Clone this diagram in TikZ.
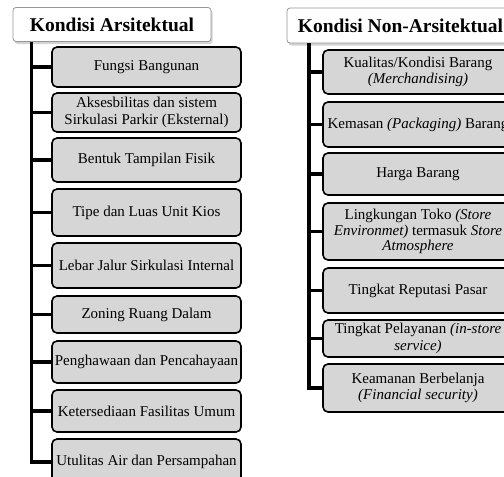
\documentclass[tikz,border=0pt]{standalone}
\usepackage{fontspec}
\setmainfont{Liberation Serif}
\usetikzlibrary{shadows}

\definecolor{boxgray}{RGB}{214,214,214}
\definecolor{headline}{RGB}{150,150,150}

\begin{document}
\begin{tikzpicture}[x=1pt, y=-1pt,
        every node/.style={font=\fontsize{15}{16.5}\selectfont, align=center, inner sep=1pt},
        header/.style={draw=headline, line width=0.8pt, fill=white, rounded corners=3pt,
            drop shadow={shadow xshift=1.5pt, shadow yshift=-2.5pt, opacity=0.35},
            font=\fontsize{19.5}{21}\selectfont\bfseries, minimum height=34pt},
        item/.style={draw, line width=1.6pt, fill=boxgray, rounded corners=5pt},
        litem/.style={item, minimum width=189pt},
        ritem/.style={item, minimum width=190pt},
        trunk/.style={line width=3.5pt}]
        \useasboundingbox (0,0) rectangle (504,477);
        \clip (0,0) rectangle (504,477);

        % kondisi arsitektual
        \node[header, minimum width=198pt] (arsi) at (112,24.5) {Kondisi Arsitektual};
        \node[litem, minimum height=40pt] (a1) at (146.5,67) {Fungsi Bangunan};
        \node[litem, minimum height=39pt] (a2) at (146.5,112.5) {Aksesbilitas dan sistem\\Sirkulasi Parkir (Eksternal)};
        \node[litem, minimum height=44pt] (a3) at (146.5,160) {Bentuk Tampilan Fisik};
        \node[litem, minimum height=47pt] (a4) at (146.5,212.5) {Tipe dan Luas Unit Kios};
        \node[litem, minimum height=45pt] (a5) at (146.5,265.5) {Lebar Jalur Sirkulasi Internal};
        \node[litem, minimum height=37pt] (a6) at (146.5,314.5) {Zoning Ruang Dalam};
        \node[litem, minimum height=42pt] (a7) at (146.5,362) {Penghawaan dan Pencahayaan};
        \node[litem, minimum height=42pt] (a8) at (146.5,411) {Ketersediaan Fasilitas Umum};
        \node[litem, minimum height=46pt] (a9) at (146.5,462) {Utulitas Air dan Persampahan};

        % kondisi non-arsitektual
        \node[header, minimum width=227pt, minimum height=35pt] (nonarsi) at (400.5,25.5) {Kondisi Non-Arsitektual};
        \node[ritem, minimum height=44pt] (n1) at (418,72) {Kualitas/Kondisi Barang\\\textit{(Merchandising)}};
        \node[ritem, minimum height=45pt] (n2) at (418,124.5) {Kemasan \textit{(Packaging)} Barang};
        \node[ritem, minimum height=42pt] (n3) at (418,174) {Harga Barang};
        \node[ritem, minimum height=57pt, font=\fontsize{15}{15.5}\selectfont] (n4) at (418,231.5) {Lingkungan Toko \textit{(Store}\\\textit{Environmet)} termasuk \textit{Store}\\\textit{Atmosphere}};
        \node[ritem, minimum height=45pt] (n5) at (418,290.5) {Tingkat Reputasi Pasar};
        \node[ritem, minimum height=37pt] (n6) at (418,338.5) {Tingkat Pelayanan \textit{(in-store}\\\textit{service)}};
        \node[ritem, minimum height=48pt] (n7) at (418,388) {Keamanan Berbelanja\\\textit{(Financial security)}};

        % connectors
        \coordinate (aroot) at (31.5,41.5);
        \draw[trunk] (aroot) |- (a9.west);
        \draw[trunk] (aroot |- a1.west) -- (a1.west);
        \draw[trunk] (aroot |- a2.west) -- (a2.west);
        \draw[trunk] (aroot |- a3.west) -- (a3.west);
        \draw[trunk] (aroot |- a4.west) -- (a4.west);
        \draw[trunk] (aroot |- a5.west) -- (a5.west);
        \draw[trunk] (aroot |- a6.west) -- (a6.west);
        \draw[trunk] (aroot |- a7.west) -- (a7.west);
        \draw[trunk] (aroot |- a8.west) -- (a8.west);

        \coordinate (nroot) at (309,43);
        \draw[trunk] (nroot) |- (n7.west);
        \draw[trunk] (nroot |- n1.west) -- (n1.west);
        \draw[trunk] (nroot |- n2.west) -- (n2.west);
        \draw[trunk] (nroot |- n3.west) -- (n3.west);
        \draw[trunk] (nroot |- n4.west) -- (n4.west);
        \draw[trunk] (nroot |- n5.west) -- (n5.west);
        \draw[trunk] (nroot |- n6.west) -- (n6.west);
    \end{tikzpicture}
\end{document}
